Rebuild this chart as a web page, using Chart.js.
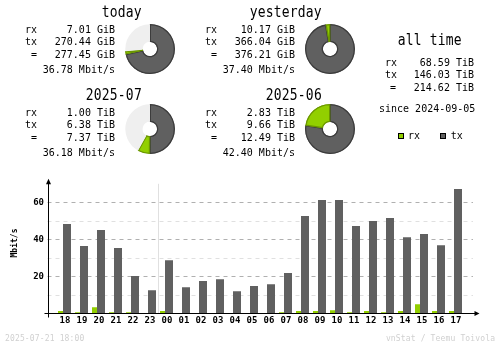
<!DOCTYPE html>
<html>
<head>
<meta charset="utf-8">
<title>vnStat summary</title>
<script src="https://cdn.jsdelivr.net/npm/chart.js@4/dist/chart.umd.min.js"></script>
<style>
  html, body { margin: 0; padding: 0; background: #fff; }
  #page { position: relative; width: 500px; height: 348px; overflow: hidden;
          font-family: "DejaVu Sans Mono", "Liberation Mono", monospace; color: #000; }
  .t { position: absolute; white-space: pre; }
  .sq { position: absolute; width: 4px; height: 4px; border: 1px solid #000; }
  canvas { position: absolute; }
</style>
</head>
<body>
<div id="page">
  <canvas id="bars" width="500" height="348" style="left:0;top:0"></canvas>
</div>
<script>
// ---- hourly rates for the last 24 hours (Mbit/s) ----
const hours = ['18','19','20','21','22','23','00','01','02','03','04','05',
               '06','07','08','09','10','11','12','13','14','15','16','17'];
const rxMbit = [1.3, 0.7, 3.4, 0.7, 0.7, 0.2, 1.3, 0.2, 0.2, 0.2, 0.2, 0.2,
                0.2, 0.7, 1.3, 1.3, 1.8, 0.7, 1.3, 0.7, 1.3, 5.0, 1.3, 1.3];
const txMbit = [48.3, 36.4, 45.0, 35.3, 20.2, 12.6, 28.8, 14.2, 17.5, 18.5, 12.0, 14.8,
                15.8, 21.8, 52.6, 61.3, 61.3, 47.2, 49.9, 51.5, 41.2, 42.9, 36.9, 67.2];
const yMajor = [20, 40, 60];
const yMinor = [10, 30, 50];
const yMax = 70;
const dayStart = '00';

// ---- period summaries ----
const periods     = ['today', 'yesterday', '2025-07', '2025-06'];
const periodRx    = [7.01, 10.17, 1.00, 2.83];
const periodTx    = [270.44, 366.04, 6.38, 9.66];
const periodTotal = [277.45, 376.21, 7.37, 12.49];
const periodUnit  = ['GiB', 'GiB', 'TiB', 'TiB'];
const periodRate  = [36.78, 37.40, 36.18, 42.40];
const periodShare = [0.735, 1, 0.58, 1];   // part of the period elapsed so far

// ---- all time ----
const allRx = 68.59, allTx = 146.03, allTotal = 214.62, allUnit = 'TiB';
const allSince = '2024-09-05';

const stamp = '2025-07-21 18:00';
const credit = 'vnStat / Teemu Toivola';

const RX = '#92cf00', RXD = '#6b9600';
const TX = '#606060', TXD = '#3c3c3c';
const BG_RING = '#efefef';
const LINE = '#b0b0b0', LINE_L = '#e0e0e0';
const FAINT = '#d0d0d0';

const page = document.getElementById('page');

// text styles: font size, extra letter spacing (fixed cell widths), vertical stretch
const BIG = { size: 13, ls: 0.2, sy: 1.15 };   // 8 px cells
const SML = { size: 10, ls: 0, sy: 1.12 };     // 6 px cells
const TINY = { size: 8, ls: 0.15, sy: 1 };     // 5 px cells

function label(str, x, base, st, opt = {}) {
  const d = document.createElement('div');
  d.className = 't';
  d.textContent = str;
  d.style.fontSize = st.size + 'px';
  d.style.lineHeight = st.size + 'px';
  d.style.letterSpacing = st.ls + 'px';
  const bo = 0.846 * st.size;
  d.style.top = (base - bo) + 'px';
  d.style.transformOrigin = '0 ' + bo + 'px';
  d.style.transform = 'scaleY(' + st.sy + ')';
  if (opt.align === 'right') d.style.right = (500 - x - st.ls) + 'px';
  else d.style.left = x + 'px';
  if (opt.color) d.style.color = opt.color;
  page.appendChild(d);
  return d;
}

// ---- summary blocks with rings ----
const colX = [0, 180];
const rowY = [0, 83.3];
const ringTop = [24, 104];

periods.forEach((name, i) => {
  const dx = colX[i % 2];
  const dy = rowY[Math.floor(i / 2)];
  const u = periodUnit[i];
  label(name, 141.7 + dx, 16.7 + dy, BIG, { align: 'right' });
  label('rx', 25 + dx, 33.3 + dy, SML);
  label('tx', 25 + dx, 45 + dy, SML);
  label('=', 31 + dx, 58.3 + dy, SML);
  label(periodRx[i].toFixed(2) + ' ' + u, 115 + dx, 33.3 + dy, SML, { align: 'right' });
  label(periodTx[i].toFixed(2) + ' ' + u, 115 + dx, 45 + dy, SML, { align: 'right' });
  label(periodTotal[i].toFixed(2) + ' ' + u, 115 + dx, 58.3 + dy, SML, { align: 'right' });
  label(periodRate[i].toFixed(2) + ' Mbit/s', 115 + dx, 73.3 + dy, SML, { align: 'right' });

  const cv = document.createElement('canvas');
  cv.width = 50; cv.height = 50;
  cv.style.left = (125 + dx) + 'px';
  cv.style.top = ringTop[Math.floor(i / 2)] + 'px';
  page.appendChild(cv);

  const used = periodRx[i] + periodTx[i];
  const rest = used / periodShare[i] - used;
  new Chart(cv, {
    type: 'doughnut',
    data: {
      labels: ['tx', 'rx', ''],
      datasets: [{
        data: [periodTx[i], periodRx[i], rest],
        backgroundColor: [TX, RX, BG_RING],
        borderColor: [TXD, RXD, BG_RING],
        borderWidth: [1, 1, 0],
        borderAlign: 'inner'
      }]
    },
    options: {
      responsive: false, animation: false, events: [],
      cutout: '28%',
      plugins: { legend: { display: false }, tooltip: { enabled: false } }
    }
  });
});

// ---- all time block ----
label('all time', 397.7, 45, BIG);
label('rx', 385, 66.7, SML);
label('tx', 385, 78.3, SML);
label('=', 390, 91.7, SML);
label(allRx.toFixed(2) + ' ' + allUnit, 474, 66.7, SML, { align: 'right' });
label(allTx.toFixed(2) + ' ' + allUnit, 474, 78.3, SML, { align: 'right' });
label(allTotal.toFixed(2) + ' ' + allUnit, 474, 91.7, SML, { align: 'right' });
label('since ' + allSince, 379, 112.3, SML);

// legend
function swatch(x, y, fill) {
  const s = document.createElement('div');
  s.className = 'sq';
  s.style.left = x + 'px';
  s.style.top = y + 'px';
  s.style.background = fill;
  page.appendChild(s);
}
swatch(398, 133, RX);
label('rx', 408, 139.3, SML);
swatch(440, 133, TX);
label('tx', 450.7, 139.3, SML);

// footer
label(stamp, 5, 342, TINY, { color: FAINT });
label(credit, 495, 342, TINY, { color: FAINT, align: 'right' });

// ---- hourly bar chart ----
const frame = {
  id: 'frame',
  beforeDatasetsDraw(chart) {
    const { ctx, chartArea, scales: { x, y } } = chart;
    const axisX = Math.round(x.getPixelForValue(0)) - 15 + 0.5;
    const right = chartArea.right + 10.5;
    ctx.save();
    ctx.lineWidth = 1;
    ctx.setLineDash([4, 4]);
    const grid = (vals, color) => {
      ctx.strokeStyle = color;
      vals.forEach(v => {
        const py = Math.round(y.getPixelForValue(v)) + 0.5;
        ctx.beginPath();
        ctx.moveTo(axisX - 1, py);
        ctx.lineTo(right, py);
        ctx.stroke();
      });
    };
    grid(yMinor, LINE_L);
    grid(yMajor, LINE);
    ctx.setLineDash([]);
    // day change marker
    const di = hours.indexOf(dayStart);
    const mx = Math.round(x.getPixelForValue(di)) - 7 + 0.5;
    ctx.strokeStyle = LINE_L;
    ctx.beginPath();
    ctx.moveTo(mx, chartArea.top);
    ctx.lineTo(mx, y.getPixelForValue(0));
    ctx.stroke();
    ctx.restore();
  },
  afterDatasetsDraw(chart) {
    const { ctx, chartArea, scales: { x, y } } = chart;
    const axisX = Math.round(x.getPixelForValue(0)) - 15 + 0.5;
    const baseY = Math.floor(y.getPixelForValue(0)) + 0.5;
    const right = chartArea.right + 14;
    ctx.save();
    ctx.strokeStyle = '#000';
    ctx.fillStyle = '#000';
    ctx.lineWidth = 1;
    ctx.beginPath();
    ctx.moveTo(axisX, chartArea.top - 2);
    ctx.lineTo(axisX, baseY + 4);
    ctx.moveTo(axisX - 4, baseY);
    ctx.lineTo(right, baseY);
    ctx.stroke();
    // arrow heads
    ctx.beginPath();
    ctx.moveTo(axisX, chartArea.top - 5);
    ctx.lineTo(axisX - 2.5, chartArea.top + 0.5);
    ctx.lineTo(axisX + 2.5, chartArea.top + 0.5);
    ctx.closePath();
    ctx.fill();
    ctx.beginPath();
    ctx.moveTo(right + 3, baseY);
    ctx.lineTo(right - 2, baseY - 2.5);
    ctx.lineTo(right - 2, baseY + 2.5);
    ctx.closePath();
    ctx.fill();

    // tick labels
    ctx.font = 'bold 9px "DejaVu Sans Mono", monospace';
    ctx.textAlign = 'right';
    ctx.textBaseline = 'middle';
    yMajor.forEach(v => ctx.fillText(String(v), axisX - 4.5, y.getPixelForValue(v) + 0.5));
    ctx.textAlign = 'center';
    ctx.textBaseline = 'top';
    hours.forEach((h, i) => ctx.fillText(h, x.getPixelForValue(i) + 2, baseY + 3));

    // axis title
    ctx.font = 'bold 8px "DejaVu Sans Mono", monospace';
    ctx.translate(15, 243);
    ctx.rotate(-Math.PI / 2);
    ctx.textAlign = 'center';
    ctx.textBaseline = 'middle';
    ctx.fillText('Mbit/s', 0, 0);
    ctx.restore();
  }
};

new Chart(document.getElementById('bars'), {
  type: 'bar',
  data: {
    labels: hours,
    datasets: [
      { label: 'rx', data: rxMbit, backgroundColor: RX, barThickness: 5, inflateAmount: 0, borderWidth: 0 },
      { label: 'tx', data: txMbit, backgroundColor: TX, barThickness: 8, inflateAmount: 0, borderWidth: 0 }
    ]
  },
  options: {
    responsive: false, animation: false, events: [],
    layout: { padding: { left: 54.5, right: 37.5, top: 183.8, bottom: 34.5 } },
    scales: {
      x: { display: false, offset: true },
      y: { display: false, min: 0, max: yMax }
    },
    plugins: { legend: { display: false }, tooltip: { enabled: false } }
  },
  plugins: [frame]
});
</script>
</body>
</html>
